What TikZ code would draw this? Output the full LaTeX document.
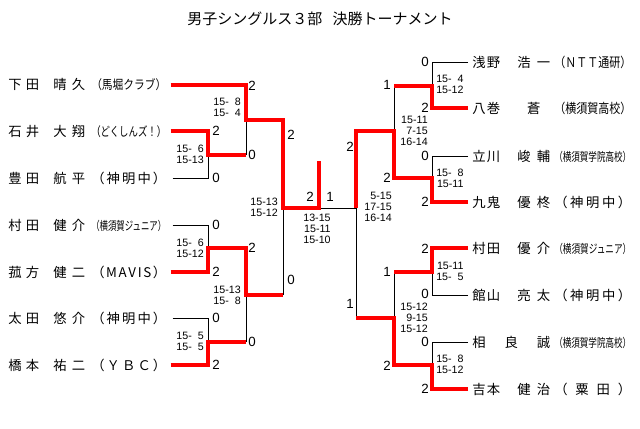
\documentclass[tikz,border=0pt]{standalone}
\usepackage{fontspec}
\usepackage{graphicx}
\setmainfont{Noto Sans CJK JP}
\newfontfamily\numfont{Liberation Sans}

% spread the characters of #2 over a box of width #1
\newcommand\spr[1]{\sprA#1\endspr}
\def\sprA#1#2\endspr{#1\ifx\relax#2\relax\else\hfill\sprA#2\endspr\fi}
\newcommand\dist[2]{\makebox[#1][s]{\spr{#2}}}
\newcommand\cond[2]{\resizebox{#1}{\height}{#2}}
% surname, given name, club
\newcommand\lname[3]{\dist{23.25pt}{#1}\hspace{10.5pt}\dist{24pt}{#2}\hspace{4.5pt}#3}
\newcommand\rname[3]{\dist{21pt}{#1}\hspace{12.75pt}\dist{24.75pt}{#2}\hspace{3pt}#3}
\newcommand\la[1]{\dist{56.25pt}{#1}}
\newcommand\ra[1]{\dist{57.75pt}{#1}}
\newcommand\lc[2]{\cond{56.25pt}{\fontsize{#1}{#1}\selectfont #2}}
\newcommand\rc[2]{\cond{57.75pt}{\fontsize{#1}{#1}\selectfont #2}}
\newcommand\ph{\hphantom{1}}

\begin{document}
\begin{tikzpicture}[x=0.75pt, y=-0.75pt,
   win/.style={red, line width=3pt},
   lose/.style={black, line width=0.75pt},
   nm/.style={font=\fontsize{10}{12}\selectfont, inner sep=0pt},
   sc/.style={font=\numfont\fontsize{10}{12}\selectfont, inner sep=0pt},
   gs/.style={font=\numfont\fontsize{8}{8.25}\selectfont, align=right, inner sep=0pt}]
   \useasboundingbox (0,0) rectangle (640,429);
   \node[font=\fontsize{11.25}{13}\selectfont] (title) at (320,19) {男子シングルス３部 \hspace{0.45em}決勝トーナメント};

   % players, left
   \node[nm, anchor=west] (p1) at (8,85)  {\lname{下田}{晴久}{\lc{9.5}{（馬堀クラブ）}}};
   \node[nm, anchor=west] (p2) at (8,131) {\lname{石井}{大翔}{\lc{9.5}{（どくしんズ！）}}};
   \node[nm, anchor=west] (p3) at (8,178) {\lname{豊田}{航平}{\la{（神明中）}}};
   \node[nm, anchor=west] (p4) at (8,225) {\lname{村田}{健介}{\lc{9}{（横須賀ジュニア）}}};
   \node[nm, anchor=west] (p5) at (8,272) {\lname{菰方}{健二}{\la{（MAVIS）}}};
   \node[nm, anchor=west] (p6) at (8,318) {\lname{太田}{悠介}{\la{（神明中）}}};
   \node[nm, anchor=west] (p7) at (8,365) {\lname{橋本}{祐二}{\la{（ＹＢＣ）}}};
   % players, right
   \node[nm, anchor=west] (q1) at (472,62)  {\rname{浅野}{浩一}{\rc{10}{（ＮＴＴ通研）}}};
   \node[nm, anchor=west] (q2) at (472,108) {\dist{21pt}{八巻}\hspace{12.75pt}\makebox[24.75pt]{蒼}\hspace{3pt}\rc{10}{（横須賀高校）}};
   \node[nm, anchor=west] (q3) at (472,156) {\rname{立川}{峻輔}{\rc{9}{（横須賀学院高校）}}};
   \node[nm, anchor=west] (q4) at (472,202) {\rname{九鬼}{優柊}{\ra{（神明中）}}};
   \node[nm, anchor=west] (q5) at (472,248) {\rname{村田}{優介}{\rc{9}{（横須賀ジュニア）}}};
   \node[nm, anchor=west] (q6) at (472,295) {\rname{館山}{亮太}{\ra{（神明中）}}};
   \node[nm, anchor=west] (q7) at (472,342) {\dist{58.5pt}{相良誠}\hspace{3pt}\rc{9}{（横須賀学院高校）}};
   \node[nm, anchor=west] (q8) at (472,389) {\rname{吉本}{健治}{\ra{（粟田）}}};

   % matches
   \coordinate (m1) at (208,155);
   \coordinate (m2) at (246,120);
   \coordinate (m3) at (208,248);
   \coordinate (m4) at (208,342);
   \coordinate (m5) at (246,295);
   \coordinate (m6) at (283,208);
   \coordinate (f) at (319,208);
   \coordinate (champ) at (319,161);
   \coordinate (n1) at (432,86);
   \coordinate (n2) at (432,178);
   \coordinate (n3) at (394,131);
   \coordinate (n4) at (432,272);
   \coordinate (n5) at (432,365);
   \coordinate (n6) at (394,318);
   \coordinate (n7) at (356,208);

   \draw[lose] ([xshift=4.5pt]p3.east) -| (m1);
   \draw[lose] (m2) -- (m2 |- m1);
   \draw[lose] ([xshift=4.5pt]p4.east) -| (m3);
   \draw[lose] ([xshift=4.5pt]p6.east) -| (m4);
   \draw[lose] (m5) -- (m5 |- m4);
   \draw[lose] (m6 |- m5) -- (m6);
   \draw[lose] (f) -- (n7);
   \draw[lose] ([xshift=-3pt]q1.west) -| (n1);
   \draw[lose] (n3 |- n1) -- (n3);
   \draw[lose] ([xshift=-3pt]q3.west) -| (n2);
   \draw[lose] ([xshift=-3pt]q6.west) -| (n4);
   \draw[lose] (n6 |- n4) -- (n6);
   \draw[lose] ([xshift=-3pt]q7.west) -| (n5);
   \draw[lose] (n7 |- n6) -- (n7);

   \draw[win] ([xshift=3pt]p1.east) -| (m2) -- (m2 -| m6) |- (f) -- (champ);
   \draw[win] ([xshift=3pt]p2.east) -| (m1) -- (m2 |- m1);
   \draw[win] ([xshift=3pt]p5.east) -| (m3) -- (m5 |- m3) -- (m5) -- (m6 |- m5);
   \draw[win] ([xshift=3pt]p7.east) -| (m4) -- (m5 |- m4);
   \draw[win] ([xshift=-3pt]q2.west) -| (n1) -- (n3 |- n1);
   \draw[win] ([xshift=-3pt]q4.west) -| (n2) -- (n3 |- n2) -- (n3) -- (n7 |- n3) -- (n7);
   \draw[win] ([xshift=-3pt]q5.west) -| (n4) -- (n6 |- n4);
   \draw[win] ([xshift=-3pt]q8.west) -| (n5) -- (n6 |- n5) -- (n6) -- (n7 |- n6);

   % games won
   \node[sc, anchor=west] (s1) at (248,86)  {2};
   \node[sc, anchor=west] (s2) at (212,131) {2};
   \node[sc, anchor=west] (s3) at (212,178) {0};
   \node[sc, anchor=west] (s4) at (248,155) {0};
   \node[sc, anchor=west] (s5) at (287,135) {2};
   \node[sc, anchor=west] (s6) at (212,225) {0};
   \node[sc, anchor=west] (s7) at (212,272) {2};
   \node[sc, anchor=west] (s8) at (248,248) {2};
   \node[sc, anchor=west] (s9) at (212,318) {0};
   \node[sc, anchor=west] (s10) at (212,365) {2};
   \node[sc, anchor=west] (s11) at (248,342) {0};
   \node[sc, anchor=west] (s12) at (287,280) {0};
   \node[sc, anchor=east] (s13) at (314,197) {2};
   \node[sc, anchor=west] (s14) at (326,197) {1};
   \node[sc, anchor=east] (t1) at (429,62)  {0};
   \node[sc, anchor=east] (t2) at (429,108) {2};
   \node[sc, anchor=east] (t3) at (391,85)  {1};
   \node[sc, anchor=east] (t4) at (429,156) {0};
   \node[sc, anchor=east] (t5) at (429,202) {2};
   \node[sc, anchor=east] (t6) at (391,178) {2};
   \node[sc, anchor=east] (t7) at (354,147) {2};
   \node[sc, anchor=east] (t8) at (429,249) {2};
   \node[sc, anchor=east] (t9) at (429,294) {0};
   \node[sc, anchor=east] (t10) at (391,272) {1};
   \node[sc, anchor=east] (t11) at (429,342) {0};
   \node[sc, anchor=east] (t12) at (429,389) {2};
   \node[sc, anchor=east] (t13) at (391,366) {2};
   \node[sc, anchor=east] (t14) at (354,304) {1};

   % points
   \node[gs, anchor=east] (g1) at (204,154.5) {15-\ph6\\15-13};
   \node[gs, anchor=east] (g2) at (241,107.5) {15-\ph8\\15-\ph4};
   \node[gs, anchor=east] (g3) at (204,248)   {15-\ph6\\15-12};
   \node[gs, anchor=east] (g4) at (204,341.5) {15-\ph5\\15-\ph5};
   \node[gs, anchor=east] (g5) at (241,295)   {15-13\\15-\ph8};
   \node[gs, anchor=east] (g6) at (278,207)   {15-13\\15-12};
   \node[gs] (g7) at (317,229) {13-15\\15-11\\15-10};
   \node[gs, anchor=east] (h1) at (392,206.5) {5-15\\17-15\\16-14};
   \node[gs, anchor=east] (h2) at (428,131) {15-11\\7-15\\16-14};
   \node[gs, anchor=east] (h3) at (428,318) {15-12\\9-15\\15-12};
   \node[gs, anchor=west] (h4) at (436,84)  {15-\ph4\\15-12};
   \node[gs, anchor=west] (h5) at (436,178) {15-\ph8\\15-11};
   \node[gs, anchor=west] (h6) at (436,271) {15-11\\15-\ph5};
   \node[gs, anchor=west] (h7) at (436,364) {15-\ph8\\15-12};
\end{tikzpicture}
\end{document}
